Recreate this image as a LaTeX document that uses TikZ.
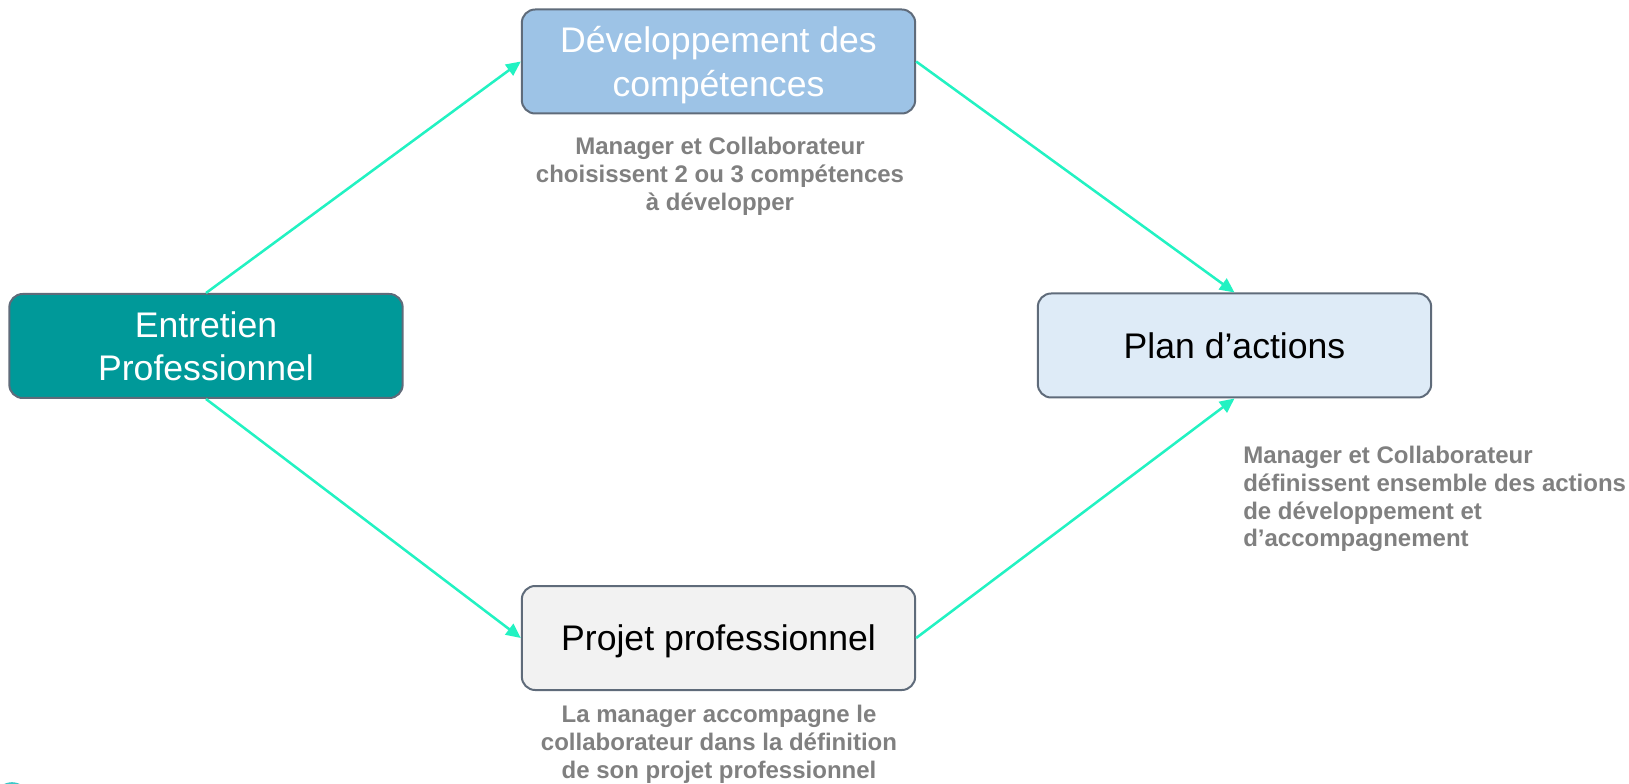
\documentclass[tikz,border=0pt]{standalone}
\usepackage{fontspec}
\setmainfont{Liberation Sans}
\usetikzlibrary{arrows.meta}

\definecolor{entfill}{HTML}{009999}
\definecolor{devfill}{HTML}{9DC3E6}
\definecolor{planfill}{HTML}{DEEBF7}
\definecolor{projfill}{HTML}{F2F2F2}
\definecolor{boxline}{HTML}{5F6B7A}
\definecolor{flowgreen}{HTML}{22F2C2}
\definecolor{notegray}{HTML}{808080}
\definecolor{markteal}{HTML}{3CC8C8}

\tikzset{
  box/.style={draw=boxline, line width=1.5pt, rounded corners=10pt,
    minimum width=295pt, minimum height=78pt, align=center, inner sep=0pt,
    text depth=0pt, font=\fontsize{26.7}{32.5}\selectfont},
  note/.style={text=notegray, inner sep=0pt,
    font=\bfseries\fontsize{18}{20.8}\selectfont},
  flow/.style={draw=flowgreen, line width=1.9pt, -{Triangle[length=11pt,width=10pt]}}
}

\begin{document}
\begin{tikzpicture}[x=0.75pt,y=-0.75pt]
 \useasboundingbox (0,0) rectangle (1629,784);

% the four steps

 \node (ent) [box, fill=entfill, text=white] at (206,346) {Entretien\\Professionnel};
 \node (dev) [box, fill=devfill, text=white] at (718.5,61.5) {Développement des\\compétences};
 \node (plan) [box, fill=planfill] at (1234.5,345.5) {Plan d’actions};
 \node (proj) [box, fill=projfill] at (718.5,638) {Projet professionnel};

% notes under the steps

 \node (devnote) [note, align=center, anchor=north] at (720,137)
   {Manager et Collaborateur\\choisissent 2 ou 3 compétences\\à développer};
 \node (plannote) [note, align=left, anchor=north west] at (1243,446)
   {Manager et Collaborateur\\définissent ensemble des actions\\de développement et\\d’accompagnement};
 \node (projnote) [note, align=center, anchor=north] at (719,705)
   {La manager accompagne le\\collaborateur dans la définition\\de son projet professionnel};

% arrows

 \draw [flow] (ent.north) -- (dev.west);
 \draw [flow] (dev.east) -- (plan.north);
 \draw [flow] (ent.south) -- (proj.west);
 \draw [flow] (proj.east) -- (plan.south);

 \draw [markteal, line width=1.2pt] (12,800) circle (17);

\end{tikzpicture}
\end{document}
